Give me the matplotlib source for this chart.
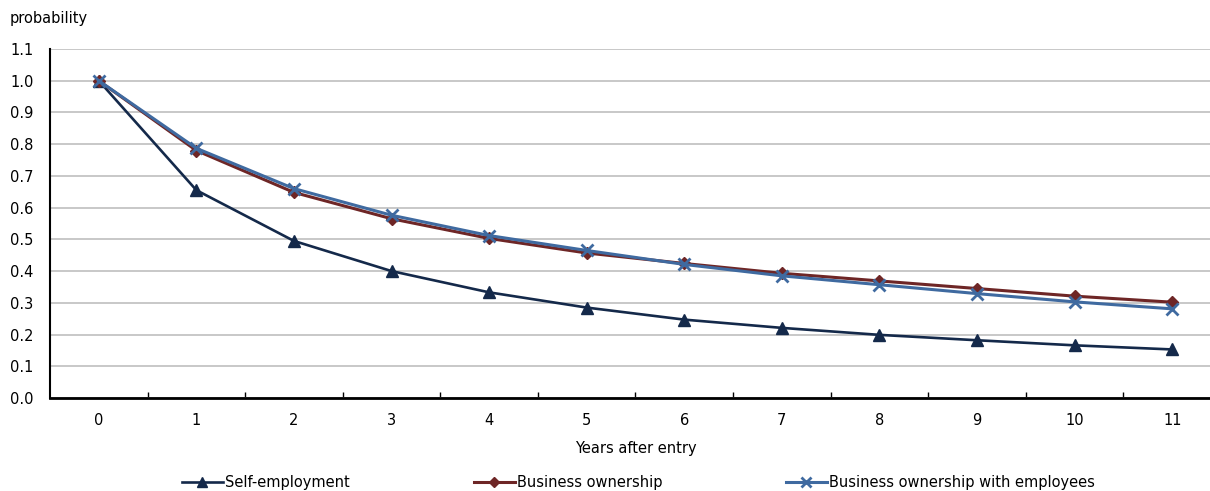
import matplotlib.pyplot as plt

# survival probabilities by years after entry
years = list(range(12))
self_employment = [1.0, 0.655, 0.495, 0.400, 0.333, 0.285, 0.247, 0.221, 0.199, 0.182, 0.166, 0.153]
business_ownership = [1.0, 0.780, 0.648, 0.565, 0.503, 0.457, 0.424, 0.393, 0.369, 0.345, 0.321, 0.302]
business_with_employees = [1.0, 0.787, 0.660, 0.576, 0.512, 0.465, 0.421, 0.385, 0.357, 0.329, 0.303, 0.281]
yticks = [0.0, 0.1, 0.2, 0.3, 0.4, 0.5, 0.6, 0.7, 0.8, 0.9, 1.0, 1.1]

plt.rcParams['font.family'] = ['DejaVu Sans']
plt.rcParams['font.size'] = 10.5

W, H = 1210, 491
fig = plt.figure(figsize=(W / 100, H / 100), dpi=100)
ax = fig.add_axes([50 / W, 1 - 398 / H, 1171 / W, 349 / H])

l1, = ax.plot(years, self_employment, color='#14294a', lw=1.9, marker='^', ms=9,
              label='Self-employment', zorder=3)
l2, = ax.plot(years, business_ownership, color='#6e2626', lw=2.2, marker='D', ms=6.5,
              label='Business ownership', zorder=4)
l3, = ax.plot(years, business_with_employees, color='#3f6aa0', lw=2.2, marker='x', ms=9,
              mew=2, label='Business ownership with employees', zorder=5)

ax.set_xlim(-0.5, 11.5)
ax.set_ylim(0, 1.1)
ax.set_yticks(yticks)
ax.set_yticklabels(['%.1f' % v for v in yticks])
ax.set_xticks(years)
ax.set_xticks([y + 0.5 for y in years[:-1]], minor=True)
ax.tick_params(axis='x', which='major', length=0, pad=11)
ax.tick_params(axis='x', which='minor', direction='in', length=4, width=1)
ax.tick_params(axis='y', length=0, pad=12)

ax.grid(axis='y', color='#c8c8c8', lw=1.4)
ax.set_axisbelow(True)
for s in ['top', 'right']:
    ax.spines[s].set_visible(False)
ax.spines['left'].set_linewidth(1.5)
ax.spines['bottom'].set_linewidth(2)
ax.spines['bottom'].set_zorder(6)

ax.set_xlabel('Years after entry', labelpad=9)
fig.text(10 / W, 1 - 18 / H, 'probability', ha='left', va='center')

# one legend entry per slot along the bottom
for line, x0 in zip([l1, l2, l3], [182, 474, 786]):
    fig.legend(handles=[line], loc='center left', bbox_to_anchor=(x0 / W, 1 - 483 / H),
               frameon=False, borderpad=0, borderaxespad=0, handlelength=2.8,
               handletextpad=0.15, markerscale=0.75)

fig.savefig('out.png', dpi=100)
